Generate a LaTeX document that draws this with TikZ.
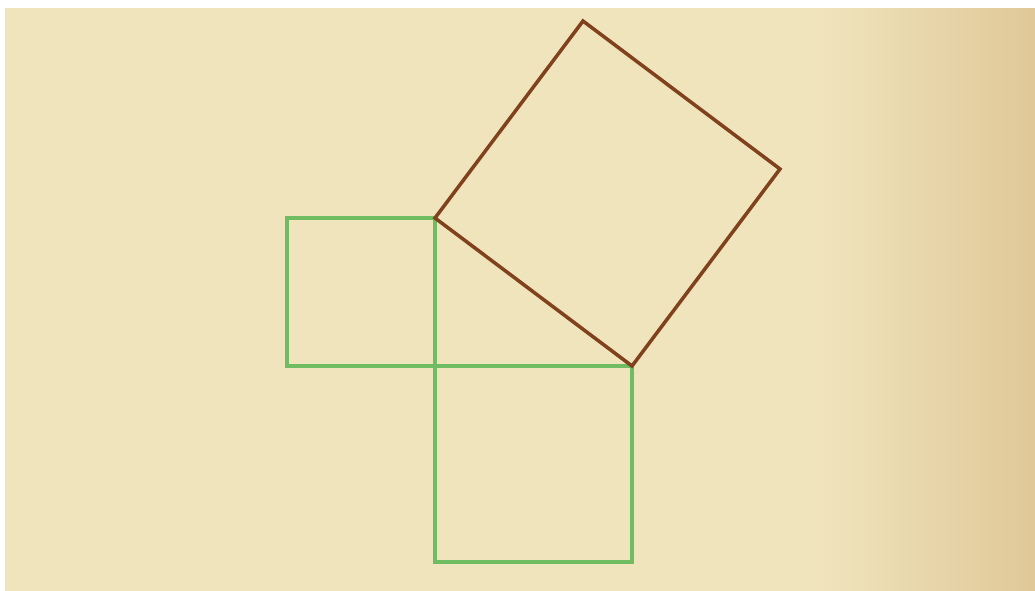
\documentclass[tikz,border=0pt]{standalone}
\usetikzlibrary{positioning,calc}
\definecolor{paper}{RGB}{240,228,189}
\definecolor{paperdark}{RGB}{224,200,152}
\definecolor{legcol}{RGB}{112,188,98}
\definecolor{hypcol}{RGB}{128,66,28}
\begin{document}
\begin{tikzpicture}[x=0.01cm,y=-0.01cm]
\begin{scope}
\tikzstyle{leg} = [draw=legcol,line width=0.9pt]
\tikzstyle{hyp} = [draw=hypcol,line width=1.0pt,line join=miter]

\useasboundingbox (0,0) rectangle (1035,590);
\fill [white] (0,0) rectangle (1035,590);
\fill [paper] (5,8) rectangle (1035,591);
\shade [left color=paper,right color=paperdark] (820,8) rectangle (1035,591);

%triangle
\coordinate (top) at (435,218);
\coordinate (corner) at (435,366);
\coordinate (right) at (632,366);

%square on vertical leg
\coordinate (l1) at ($(top)+(-148,0)$);
\coordinate (l2) at ($(corner)+(-148,0)$);
\draw [leg] (top) -- (l1) -- (l2) -- (corner) -- cycle;

%square on horizontal leg
\coordinate (b1) at ($(corner)+(0,196)$);
\coordinate (b2) at ($(right)+(0,196)$);
\draw [leg] (corner) -- (b1) -- (b2) -- (right) -- cycle;

%square on hypotenuse
\coordinate (h1) at ($(top)+(148,-197)$);
\coordinate (h2) at ($(right)+(148,-197)$);
\draw [hyp] (top) -- (h1) -- (h2) -- (right) -- cycle;
\end{scope}
\end{tikzpicture}
\end{document}
